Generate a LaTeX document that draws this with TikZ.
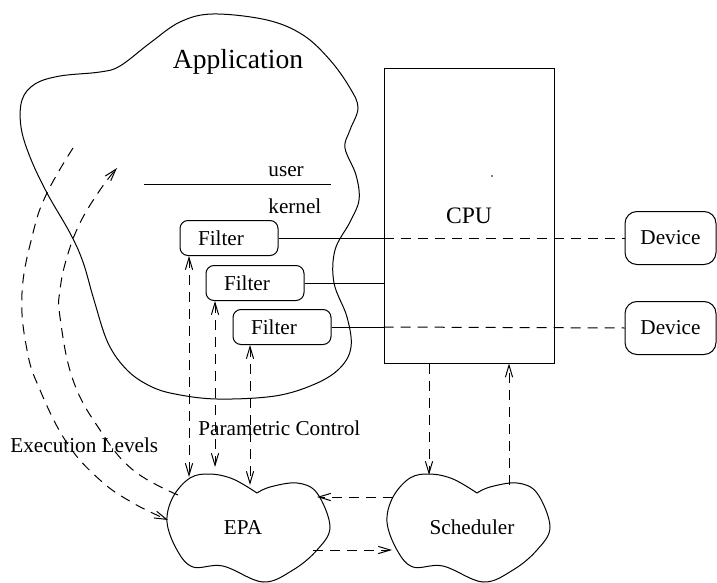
\documentclass[tikz,border=0pt]{standalone}
\usepackage{fontspec}
\setmainfont{Liberation Serif}
\usepackage{tikz}
\usetikzlibrary{arrows.meta, positioning, calc}
\tikzset{
  font=\fontsize{10.6}{12.7}\selectfont,
  baseblock/.style={
    rectangle, draw=black, line width=0.5pt,
    inner sep=0pt, align=center
  },
  filterblock/.style={baseblock, rounded corners=4pt, minimum height=17.5pt,
    text width=31pt, inner xsep=9pt, align=left},
  deviceblock/.style={baseblock, rounded corners=6pt, minimum width=45.5pt, minimum height=26.5pt},
  cpublock/.style={baseblock, minimum width=85pt, minimum height=147pt,
    font=\fontsize{11.8}{14}\selectfont},
  labeltext/.style={inner sep=0pt},
  wire/.style={draw=black, line width=0.5pt},
  dashedwire/.style={wire, dash pattern=on 5pt off 3.5pt},
  dashedflow/.style={
    dashedwire, -{Straight Barb[length=6pt, width=3.6pt]}
  },
  bidirflow/.style={
    dashedwire, {Straight Barb[length=6pt, width=3.6pt]}-{Straight Barb[length=6pt, width=3.6pt]}
  },
  blob/.pic={
    \draw[wire] plot[smooth, tension=0.6] coordinates {(9,-35) (22,-41) (49,-45) (69,-35) (82,-1)
      (69,22) (45,42) (15,54) (-25,38) (-55,39) (-71,22) (-81,-6) (-75,-31) (-58,-50)
      (-38,-54) (-15,-49) (9,-35)};
  }
}

\begin{document}
\begin{tikzpicture}[x=0.5pt, y=-0.5pt]
  \useasboundingbox (0,0) rectangle (717,583);

  % Application region
  \draw[wire] plot[smooth cycle, tension=0.6] coordinates {(213,14) (267,20) (303,35) (330,60)
    (350,88) (358,108) (350,130) (345,148) (356,175) (359,200) (350,222) (335,250) (334,283)
    (347,317) (351,347) (340,368) (315,384) (275,396) (217,399) (175,394) (150,386) (127,370)
    (108,343) (94,300) (83,262) (70,233) (47,193) (30,157) (21,127) (22,100) (35,84) (60,76)
    (100,72) (120,66) (150,43) (180,22)};
  \node[labeltext, font=\fontsize{13.8}{16}\selectfont] (app) at (238,62) {Application};
  \node[labeltext, anchor=west] (user) at (268,172) {user};
  \node[labeltext, anchor=west] (kernel) at (268,206) {kernel};
  \draw[wire] (144,184) -- (331,184);

  % Filters, CPU and devices
  \node[filterblock] (filter1) at (229,238) {Filter};
  \node[filterblock] (filter2) at (255,283) {Filter};
  \node[filterblock] (filter3) at (282,327) {Filter};

  \node[cpublock] (cpu) at (469,216) {CPU};
  \fill (492,176) circle (0.4pt);
  \node[deviceblock] (device1) at (670.5,238) {Device};
  \node[deviceblock, below=18pt of device1] (device2) {Device};

  % Control processes
  \node[labeltext] (epa) at (243,527) {EPA};
  \node[labeltext] (sched) at (472,527) {Scheduler};
  \pic at (248,528) {blob};
  \pic at (468,528) {blob};

  \node[labeltext, anchor=west] (param) at (198,428) {Parametric Control};
  \node[labeltext, anchor=west] (levels) at (10,445) {Execution Levels};

  % Connector ends on the blobs
  \coordinate (epa-n1) at (189,477);
  \coordinate (epa-n2) at (215,467);
  \coordinate (epa-n3) at (250,485);
  \coordinate (epa-w) at (168,520);
  \coordinate (epa-nw) at (178,495);
  \coordinate (epa-ne) at (317,497);
  \coordinate (epa-se) at (313,550);
  \coordinate (sched-n) at (429,475);
  \coordinate (sched-ne) at (509,485);
  \coordinate (sched-w) at (393,497);
  \coordinate (sched-sw) at (392,550);
  \coordinate (lvl-a) at (73,148);
  \coordinate (lvl-b) at (117,168);

  % Filter to CPU to device lines
  \draw[wire] (filter1.east) -- (filter1.east -| cpu.west) coordinate (cpu-in1);
  \draw[dashedwire] (cpu-in1) -- (device1.west);
  \draw[wire] (filter2.east) -- (filter2.east -| cpu.west);
  \draw[wire] (filter3.east) -- (filter3.east -| cpu.west) coordinate (cpu-in3);
  \draw[dashedwire] (cpu-in3) -- (device2.west);

  % Parametric control
  \draw[bidirflow] (filter1.south -| epa-n1) -- (epa-n1);
  \draw[bidirflow] (filter2.south -| epa-n2) -- (epa-n2);
  \draw[bidirflow] (filter3.south -| epa-n3) -- (epa-n3);

  % CPU, scheduler and EPA
  \draw[dashedflow] (cpu.south -| sched-n) -- (sched-n);
  \draw[dashedflow] (sched-ne) -- (sched-ne |- cpu.south);
  \draw[dashedflow] (sched-w) -- (epa-ne);
  \draw[dashedflow] (epa-se) -- (sched-sw);

  % Execution levels
  \draw[dashedflow] plot[smooth, tension=0.7] coordinates {(lvl-a) (47,193) (33,233) (22,293)
    (27,350) (40,390) (67,443) (100,480) (133,503) (epa-w)};
  \draw[dashedflow] plot[smooth, tension=0.7] coordinates {(epa-nw) (133,470) (100,430) (73,380)
    (60,317) (60,290) (67,257) (80,223) (100,190) (lvl-b)};

\end{tikzpicture}
\end{document}
